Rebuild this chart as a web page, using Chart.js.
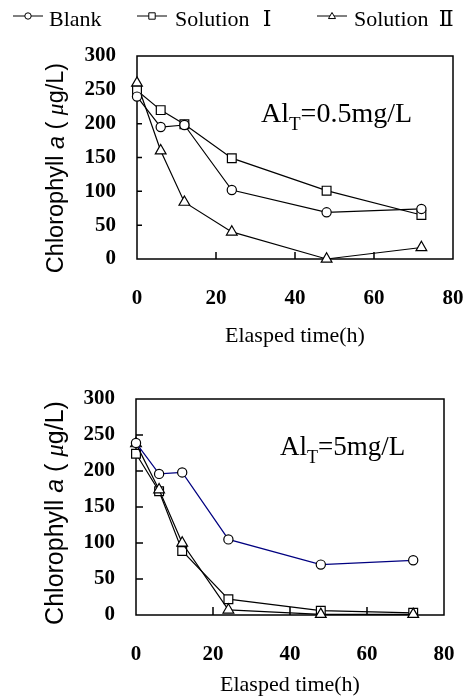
<!DOCTYPE html>
<html><head><meta charset="utf-8">
<script src="https://cdn.jsdelivr.net/npm/chart.js@4.4.0/dist/chart.umd.min.js"></script>
<style>
html,body{margin:0;padding:0;background:#fff;}
#wrap{position:relative;width:469px;height:697px;overflow:hidden;}
canvas{position:absolute;left:0;}
#c1{top:0;} #c2{top:350px;}
</style></head><body>
<div id="wrap"><canvas id="c1" width="469" height="350"></canvas><canvas id="c2" width="469" height="347"></canvas></div>
<script>
/* 数据：叶绿素a 随时间变化 */
const hours = [0, 6, 12, 24, 48, 72];
// Al_T = 0.5 mg/L
const blank05 = [240, 195, 198, 102, 69, 74];
const sol1_05 = [249, 220, 199, 149, 101, 65];
const sol2_05 = [260, 160, 84, 40, 0, 17];
// Al_T = 5 mg/L
const blank5 = [239, 196, 198, 105, 70, 76];
const sol1_5 = [224, 172, 89, 22, 6, 3];
const sol2_5 = [238, 174, 100, 7, 1, 1];
const xTicks = [0, 20, 40, 60, 80];
const yTicks = [0, 50, 100, 150, 200, 250, 300];
const seriesNames = ['Blank', 'Solution Ⅰ', 'Solution Ⅱ'];
const xTitle = 'Elasped time(h)';

const SERIF = '"Liberation Serif", "DejaVu Serif", "Times New Roman", serif';
const SANS = '"Liberation Sans", Arial, sans-serif';

const pts = vals => hours.map((h, i) => ({x: h, y: vals[i]}));

function ds(label, vals, style, radius, color) {
  return { label, data: pts(vals), borderColor: color || '#000', borderWidth: 1.2,
    pointStyle: style, pointRadius: radius, pointHoverRadius: radius,
    pointBackgroundColor: '#fff', pointBorderColor: '#000', pointBorderWidth: 1.2,
    tension: 0, clip: 12 };
}

// 画标记（图例用）
function marker(ctx, style, x, y, r) {
  ctx.beginPath();
  if (style === 'circle') ctx.arc(x, y, r, 0, Math.PI * 2);
  else if (style === 'rect') ctx.rect(x - r, y - r, 2 * r, 2 * r);
  else { ctx.moveTo(x, y - r * 1.1); ctx.lineTo(x + r * 1.1, y + r * 0.8); ctx.lineTo(x - r * 1.1, y + r * 0.8); ctx.closePath(); }
  ctx.fillStyle = '#fff'; ctx.fill(); ctx.stroke();
}

// 框线 + 内刻度
const framePlugin = {
  id: 'frame',
  beforeDatasetsDraw(chart, args, o) {
    const {ctx, chartArea: a, scales: {x, y}} = chart;
    ctx.save();
    ctx.strokeStyle = '#000'; ctx.lineWidth = 1.5;
    ctx.strokeRect(a.left, a.top, a.right - a.left, a.bottom - a.top);
    ctx.beginPath();
    xTicks.slice(1, -1).forEach(v => { const px = x.getPixelForValue(v); ctx.moveTo(px, a.bottom); ctx.lineTo(px, a.bottom - o.xLen); });
    yTicks.slice(1, -1).forEach(v => { const py = y.getPixelForValue(v); ctx.moveTo(a.left, py); ctx.lineTo(a.left + o.yLen, py); });
    ctx.stroke();
    ctx.restore();
  },
  afterDraw(chart, args, o) {
    const ctx = chart.ctx;
    ctx.save();
    ctx.fillStyle = '#000';
    // y 轴标题（混合字体，旋转）
    const segs = [['Chlorophyll ', ''], ['a', 'italic '], [' ( ', ''], ['μ', 'serif'], ['g/L)', '']];
    const fnt = s => s[1] === 'serif' ? `italic ${o.ySize}px ${SERIF}` : `${s[1]}${o.ySize}px ${SANS}`;
    let total = 0;
    segs.forEach(s => { ctx.font = fnt(s); total += ctx.measureText(s[0]).width; });
    ctx.translate(o.yX, o.yY); ctx.rotate(-Math.PI / 2);
    ctx.textBaseline = 'middle'; ctx.textAlign = 'left';
    let cx = -total / 2;
    segs.forEach(s => { ctx.font = fnt(s); ctx.fillText(s[0], cx, 0); cx += ctx.measureText(s[0]).width; });
    ctx.restore();
    // 注释 Al_T
    ctx.save();
    ctx.fillStyle = '#000'; ctx.textBaseline = 'alphabetic';
    let ax = o.noteX;
    ctx.font = `${o.noteSize}px ${SERIF}`; ctx.fillText('Al', ax, o.noteY); ax += ctx.measureText('Al').width;
    ctx.font = `${Math.round(o.noteSize * 0.68)}px ${SERIF}`; ctx.fillText('T', ax, o.noteY + 8); ax += ctx.measureText('T').width;
    ctx.font = `${o.noteSize}px ${SERIF}`; ctx.fillText(o.note, ax, o.noteY);
    // 图例（罗马数字按全角宽度放置）
    if (o.legend) {
      const mx = [28, 152, 332], tx = [49, 175, 354], st = ['circle', 'rect', 'triangle'];
      const fs = 22;
      ctx.strokeStyle = '#000'; ctx.lineWidth = 1;
      ctx.font = `${fs}px ${SERIF}`;
      seriesNames.forEach((n, i) => {
        ctx.beginPath(); ctx.moveTo(mx[i] - 15, 16); ctx.lineTo(mx[i] + 15, 16); ctx.stroke();
        marker(ctx, st[i], mx[i], 16, 3.2);
        ctx.fillStyle = '#000';
        const [w, num] = n.split(' ');
        ctx.textAlign = 'left'; ctx.fillText(w, tx[i], 26);
        if (num) {
          const end = tx[i] + ctx.measureText(w).width;
          ctx.textAlign = 'center'; ctx.fillText(num, end + fs * 0.8, 26);
        }
      });
    }
    ctx.restore();
  }
};

function makeChart(id, sets, pad, yW, xH, opts) {
  return new Chart(document.getElementById(id), {
    type: 'line',
    data: { datasets: sets },
    options: {
      responsive: false, animation: false, devicePixelRatio: 1,
      layout: { padding: pad },
      plugins: { legend: { display: false }, tooltip: { enabled: false }, frame: opts },
      scales: {
        x: { type: 'linear', min: 0, max: 80,
          afterBuildTicks: s => { s.ticks = xTicks.map(v => ({value: v})); },
          afterFit: s => { s.height = xH; s.paddingLeft = 0; s.paddingRight = 0; },
          grid: { display: false }, border: { display: false },
          ticks: { padding: opts.xPad, color: '#000', font: { family: SERIF, size: 21, weight: 'bold' } },
          title: { display: true, text: xTitle, color: '#000', padding: { bottom: opts.tPad },
            font: { family: SERIF, size: 22 } } },
        y: { min: 0, max: 300,
          afterBuildTicks: s => { s.ticks = yTicks.map(v => ({value: v})); },
          afterFit: s => { s.width = yW; s.paddingTop = 0; s.paddingBottom = 0; },
          grid: { display: false }, border: { display: false },
          ticks: { padding: 13, color: '#000', font: { family: SERIF, size: 21, weight: 'bold' } } }
      }
    },
    plugins: [framePlugin]
  });
}

makeChart('c1', [
  ds(seriesNames[0], blank05, 'circle', 4.6),
  ds(seriesNames[1], sol1_05, 'rect', 6.2),
  ds(seriesNames[2], sol2_05, 'triangle', 6.2)
], { top: 56, right: 16, left: 0, bottom: 0 }, 137, 91,
  { xLen: 7, yLen: 5, xPad: 19, tPad: 1, ySize: 23.5, yX: 57, yY: 168,
    note: '=0.5mg/L', noteX: 261, noteY: 122, noteSize: 28, legend: true });

makeChart('c2', [
  ds(seriesNames[0], blank5, 'circle', 4.6, '#000080'),
  ds(seriesNames[2], sol2_5, 'triangle', 6.2),
  ds(seriesNames[1], sol1_5, 'rect', 6.2)
], { top: 49, right: 25, left: 0, bottom: 0 }, 136, 82,
  { xLen: 8, yLen: 7, xPad: 19, tPad: -1, ySize: 25, yX: 56, yY: 513 - 350,
    note: '=5mg/L', noteX: 280, noteY: 455 - 350, noteSize: 27, legend: false });
</script>
</body></html>
